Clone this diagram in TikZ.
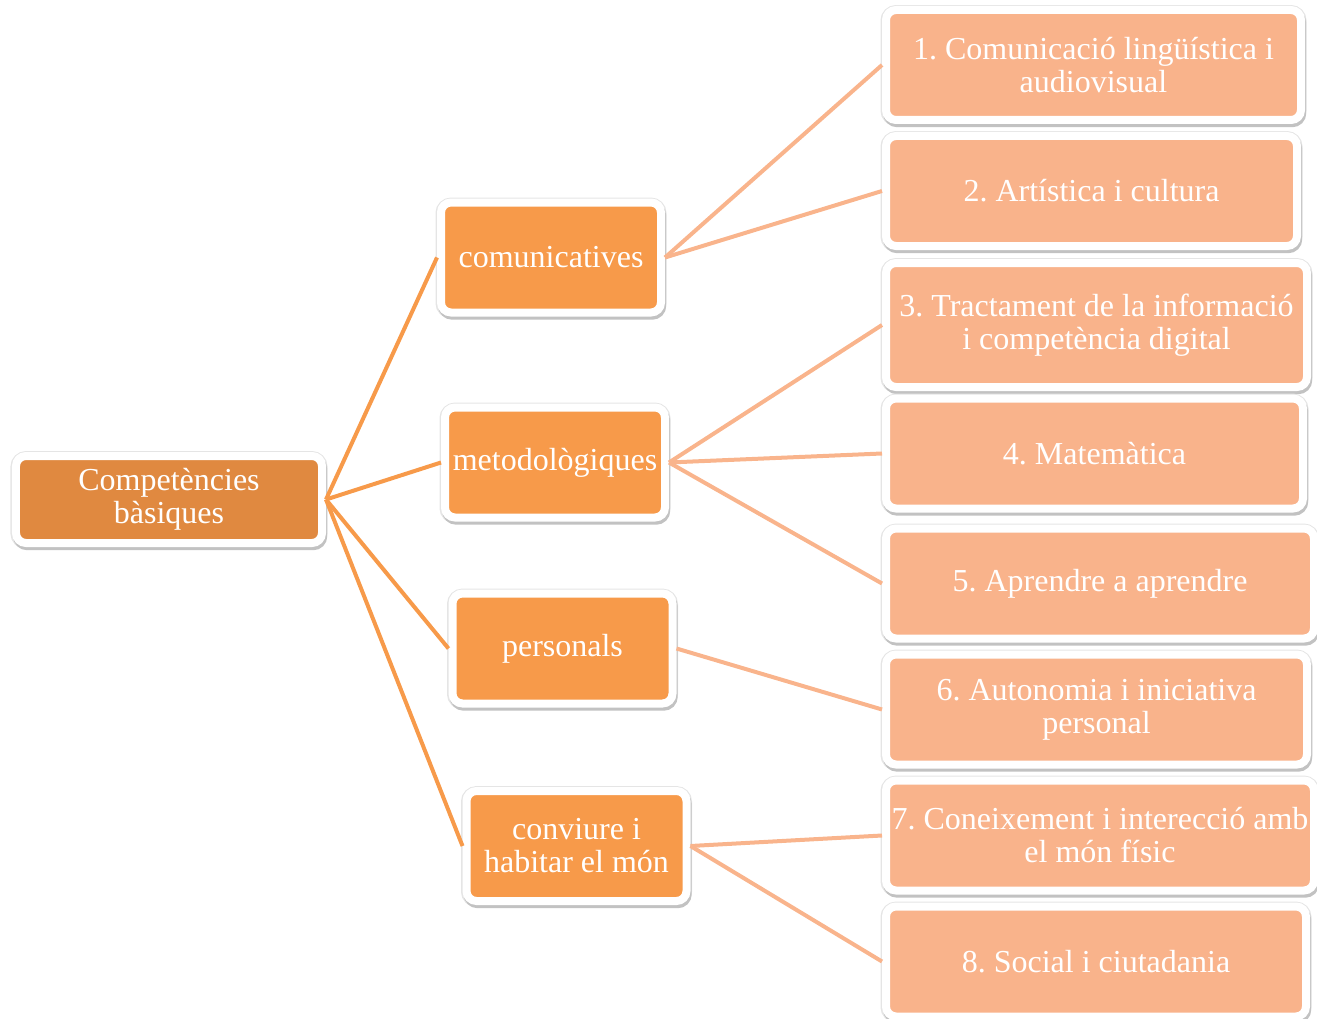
\documentclass[tikz,border=0pt]{standalone}
\usepackage{fontspec}
\setmainfont{Liberation Serif}
\frenchspacing
\usetikzlibrary{positioning, shadows}
\definecolor{rootorange}{RGB}{224,137,64}
\definecolor{grouporange}{RGB}{247,154,74}
\definecolor{itempeach}{RGB}{249,179,139}
\definecolor{linkpeach}{RGB}{249,180,140}
\tikzset{
-, % plain lines, no tips
node distance=63pt, % centre to centre distance of the stacked boxes
box/.style={draw=white, line width=4pt, rounded corners=5pt, text=white, align=center, inner xsep=0pt,
  font=\fontsize{16}{16.5}\selectfont,
  drop shadow={shadow xshift=0pt, shadow yshift=-0.3pt, fill=black!10, draw=black!10, line width=5.5pt, opacity=1},
  drop shadow={shadow xshift=0.6pt, shadow yshift=-1.6pt, fill=black!24, draw=black!24, line width=4pt, opacity=1}},
root/.style={box, fill=rootorange, minimum width=153pt, minimum height=43.5pt}, % the left box
group/.style={box, fill=grouporange, minimum width=110pt, minimum height=55pt}, % the four groups
item/.style={box, fill=itempeach, minimum height=55pt}, % the eight competences
trunk/.style={draw=grouporange, line width=2pt},
branch/.style={draw=linkpeach, line width=2pt},
}
\begin{document}
\begin{tikzpicture}
      \useasboundingbox (-84.5pt,-259.25pt) rectangle (574pt,249.75pt);
      \node[root] (cb) at (0,0) {Competències\\bàsiques};

      \node[group, right of=cb, node distance=191pt, yshift=121pt] (com) {comunicatives};
      \node[group, right of=cb, node distance=191pt, xshift=2pt, yshift=18.5pt] (met) {metodològiques};
      \node[group, right of=cb, node distance=191pt, xshift=5.75pt, yshift=-74.5pt] (per) {personals};
      \node[group, right of=cb, node distance=191pt, xshift=12.75pt, yshift=-173.25pt] (con) {conviure i\\habitar el món};

      \node[item, minimum width=207.5pt, right of=com, node distance=271.25pt, yshift=96.25pt] (c1) {1. Comunicació lingüística i\\audiovisual};
      \node[item, minimum width=205.5pt, below of=c1, xshift=-1pt] (c2) {2. Artística i cultura};
      \node[item, minimum width=210.5pt, minimum height=62pt, below of=c2, xshift=2.5pt, yshift=-4pt] (c3) {3. Tractament de la informació\\i competència digital};
      \node[item, minimum width=208.5pt, below of=c3, xshift=-1pt, yshift=-1.25pt] (c4) {4. Matemàtica};
      \node[item, minimum width=214pt, below of=c4, xshift=2.75pt, yshift=-2pt] (c5) {5. Aprendre a aprendre};
      \node[item, minimum width=210.5pt, below of=c5, xshift=-1.75pt] (c6) {6. Autonomia i iniciativa\\personal};
      \node[item, minimum width=214pt, below of=c6, xshift=1.75pt] (c7) {7. Coneixement i interecció amb\\el món físic};
      \node[item, minimum width=210pt, below of=c7, xshift=-2pt] (c8) {8. Social i ciutadania};

      \draw[trunk] (cb.east) edge (com.west)
      (cb.east) edge (met.west)
      (cb.east) edge (per.west)
      (cb.east) edge (con.west);

      \draw[branch] (com.east) edge (c1.west)
      (com.east) edge (c2.west)
      (met.east) edge (c3.west)
      (met.east) edge (c4.west)
      (met.east) edge (c5.west)
      (per.east) edge (c6.west)
      (con.east) edge (c7.west)
      (con.east) edge (c8.west);
    \end{tikzpicture}
\end{document}
